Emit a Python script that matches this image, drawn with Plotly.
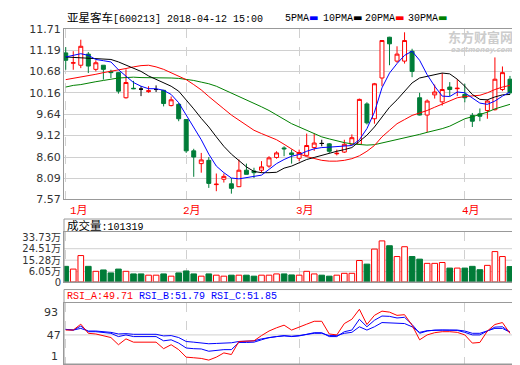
import plotly.graph_objects as go

# ---------------- data ----------------
dates = [
    "2018-01-10", "2018-01-11", "2018-01-12", "2018-01-15", "2018-01-16", "2018-01-17", "2018-01-18", "2018-01-19",
    "2018-01-22", "2018-01-23", "2018-01-24", "2018-01-25", "2018-01-26", "2018-01-29", "2018-01-30", "2018-01-31",
    "2018-02-01", "2018-02-02", "2018-02-05", "2018-02-06", "2018-02-07", "2018-02-08", "2018-02-09", "2018-02-12",
    "2018-02-13", "2018-02-14", "2018-02-22", "2018-02-23", "2018-02-26", "2018-02-27", "2018-02-28",
    "2018-03-01", "2018-03-02", "2018-03-05", "2018-03-06", "2018-03-07", "2018-03-08", "2018-03-09", "2018-03-12",
    "2018-03-13", "2018-03-14", "2018-03-15", "2018-03-16", "2018-03-19", "2018-03-20", "2018-03-21", "2018-03-22",
    "2018-03-23", "2018-03-26", "2018-03-27", "2018-03-28", "2018-03-29", "2018-03-30",
    "2018-04-02", "2018-04-03", "2018-04-04", "2018-04-09", "2018-04-10", "2018-04-11", "2018-04-12",
]
opens = [11.13, 10.88, 10.83, 11.10, 10.73, 10.83, 10.68, 10.65, 10.04, 10.27,
         10.25, 10.19, 10.24, 10.22, 9.85, 9.88, 9.51, 8.75, 8.44, 8.52,
         7.93, 8.06, 7.95, 7.88, 8.28, 8.26, 8.28, 8.38, 8.59, 8.82,
         8.70, 8.57, 8.64, 8.83, 8.93, 8.92, 8.68, 8.72, 8.91, 8.91,
         9.89, 9.53, 10.52, 11.51, 10.93, 10.93, 11.17, 10.04, 9.62, 10.11,
         9.94, 10.30, 10.26, 10.12, 9.61, 9.65, 9.73, 9.75, 10.24, 10.49]
highs = [11.27, 11.17, 11.45, 11.15, 10.95, 10.83, 10.72, 10.66, 10.73, 10.45,
         10.32, 10.32, 10.34, 10.23, 10.07, 9.91, 9.52, 8.80, 8.70, 8.60,
         8.20, 8.20, 8.09, 8.54, 8.44, 8.34, 8.50, 8.62, 8.74, 8.86,
         8.78, 8.78, 9.17, 9.17, 9.02, 8.94, 8.78, 9.02, 9.15, 10.02,
         9.93, 10.40, 11.44, 11.52, 11.29, 11.63, 11.23, 10.16, 10.00, 10.36,
         10.64, 10.42, 10.49, 10.38, 9.67, 9.78, 10.00, 11.02, 10.80, 10.57]
lows = [10.72, 10.72, 10.76, 10.64, 10.68, 10.48, 10.52, 10.14, 10.02, 10.25,
        10.08, 10.16, 10.18, 9.83, 9.83, 9.47, 8.70, 8.12, 8.22, 7.85,
        7.77, 7.98, 7.71, 7.87, 8.18, 8.09, 8.22, 8.34, 8.56, 8.62,
        8.44, 8.50, 8.64, 8.75, 8.86, 8.70, 8.64, 8.70, 8.90, 8.90,
        9.39, 9.41, 10.32, 10.83, 10.89, 10.87, 10.54, 9.61, 9.20, 10.02,
        9.85, 10.08, 10.08, 9.93, 9.33, 9.47, 9.53, 9.73, 10.20, 10.12]
closes = [10.95, 10.89, 11.29, 10.81, 10.89, 10.73, 10.65, 10.20, 10.41, 10.26,
          10.25, 10.21, 10.24, 9.90, 9.99, 9.53, 8.75, 8.60, 8.53, 7.96,
          7.94, 8.13, 7.84, 8.28, 8.18, 8.22, 8.36, 8.58, 8.70, 8.80,
          8.66, 8.71, 8.88, 8.94, 8.93, 8.74, 8.69, 8.91, 9.07, 10.00,
          9.43, 10.38, 11.43, 11.35, 11.10, 11.43, 10.68, 9.62, 9.96, 10.18,
          10.24, 10.24, 10.27, 10.04, 9.47, 9.59, 9.96, 10.49, 10.65, 10.16]

ma5 = [11.03, 11.07, 11.11, 11.07, 10.97, 10.94, 10.91, 10.72, 10.56, 10.41,
       10.32, 10.26, 10.26, 10.22, 10.12, 9.92, 9.62, 9.31, 9.02, 8.67,
       8.38, 8.22, 8.09, 8.07, 8.10, 8.13, 8.16, 8.30, 8.44, 8.54,
       8.62, 8.66, 8.74, 8.80, 8.83, 8.84, 8.85, 8.86, 8.88, 9.02,
       9.29, 9.69, 10.28, 10.64, 10.87, 11.07, 11.17, 10.95, 10.60, 10.32,
       10.08, 10.07, 10.18, 10.16, 10.04, 9.91, 9.88, 9.96, 10.08, 10.18]
ma10 = [11.03, 11.02, 11.02, 11.01, 10.99, 10.98, 10.97, 10.91, 10.83, 10.76,
        10.68, 10.57, 10.49, 10.40, 10.32, 10.20, 9.99, 9.77, 9.54, 9.33,
        9.09, 8.86, 8.67, 8.52, 8.36, 8.25, 8.22, 8.22, 8.23, 8.33,
        8.38, 8.46, 8.54, 8.59, 8.64, 8.70, 8.74, 8.78, 8.83, 8.98,
        9.13, 9.33, 9.57, 9.81, 9.99, 10.20, 10.40, 10.52, 10.56, 10.60,
        10.64, 10.62, 10.49, 10.32, 10.12, 10.00, 9.99, 10.06, 10.11, 10.12]
ma20 = [10.48, 10.51, 10.54, 10.57, 10.61, 10.65, 10.68, 10.72, 10.75, 10.79,
        10.82, 10.83, 10.79, 10.73, 10.65, 10.57, 10.48, 10.36, 10.23, 10.07,
        9.91, 9.77, 9.62, 9.49, 9.37, 9.25, 9.17, 9.09, 9.02, 8.91,
        8.80, 8.68, 8.61, 8.56, 8.52, 8.50, 8.50, 8.52, 8.56, 8.63,
        8.74, 8.88, 9.09, 9.25, 9.41, 9.51, 9.61, 9.67, 9.73, 9.81,
        9.89, 9.96, 10.04, 10.07, 10.08, 10.10, 10.16, 10.24, 10.30, 10.34]
ma30 = [10.30, 10.34, 10.36, 10.40, 10.43, 10.46, 10.49, 10.52, 10.53, 10.54,
        10.53, 10.53, 10.53, 10.52, 10.52, 10.51, 10.49, 10.46, 10.42, 10.38,
        10.32, 10.24, 10.16, 10.08, 9.99, 9.91, 9.82, 9.73, 9.62, 9.51,
        9.41, 9.33, 9.25, 9.17, 9.09, 9.04, 8.99, 8.95, 8.92, 8.90,
        8.89, 8.90, 8.94, 8.99, 9.03, 9.07, 9.11, 9.15, 9.20, 9.24,
        9.29, 9.35, 9.43, 9.53, 9.58, 9.63, 9.69, 9.77, 9.82, 9.88]

# volume in 万 (10k)
volume_wan = [10.3, 8.1, 19.0, 10.3, 6.3, 7.4, 5.0, 8.1, 6.3, 4.2,
              4.2, 3.2, 3.2, 4.2, 2.4, 5.0, 6.6, 4.2, 2.4, 4.2,
              3.2, 2.4, 3.2, 3.2, 3.2, 2.4, 3.2, 3.2, 4.2, 4.2,
              3.4, 3.2, 6.3, 4.2, 3.2, 2.4, 3.2, 4.7, 4.7, 15.0,
              12.1, 24.2, 30.8, 26.9, 18.2, 26.1, 18.2, 16.1, 12.7, 12.7,
              13.4, 8.9, 8.9, 8.9, 10.3, 7.6, 11.1, 22.2, 18.2, 10.13]

rsi_a = [55.7, 55.7, 66.3, 49.9, 48.7, 45.2, 42.3, 29.4, 39.9, 34.0,
         34.0, 33.5, 34.0, 22.3, 29.4, 20.6, 7.1, 6.0, 4.8, 1.8,
         7.1, 14.7, 11.8, 35.2, 35.2, 36.4, 45.8, 54.0, 59.8, 64.5,
         55.7, 61.6, 66.3, 71.5, 71.5, 48.7, 47.0, 67.4, 75.1, 93.0,
         65.7, 82.1, 89.7, 87.9, 82.1, 83.3, 64.5, 38.2, 47.0, 51.0,
         52.8, 52.8, 51.6, 47.0, 32.3, 33.5, 54.0, 65.7, 69.2, 49.71]
rsi_b = [56.9, 55.7, 62.8, 52.8, 52.8, 51.0, 49.9, 44.0, 47.0, 44.0,
         44.0, 44.0, 44.0, 36.4, 38.2, 32.3, 23.5, 22.3, 21.8, 17.7,
         19.4, 20.6, 20.6, 33.5, 33.5, 34.0, 38.2, 42.3, 44.0, 45.8,
         44.0, 45.2, 48.1, 51.0, 51.0, 44.0, 44.0, 52.8, 55.7, 75.1,
         61.6, 73.3, 80.9, 80.3, 77.4, 78.6, 65.7, 49.9, 54.0, 55.7,
         55.7, 55.7, 55.1, 51.6, 47.0, 47.0, 54.0, 61.0, 61.6, 51.79]
rsi_c = [56.9, 55.7, 58.7, 54.0, 54.0, 52.8, 51.6, 48.7, 49.3, 48.1,
         48.1, 48.1, 48.1, 45.2, 45.8, 42.3, 35.2, 34.0, 32.3, 31.1,
         31.7, 32.3, 32.9, 35.2, 35.2, 36.4, 39.9, 42.3, 44.0, 45.2,
         44.6, 45.8, 48.1, 49.9, 49.9, 45.8, 45.8, 49.9, 51.6, 61.6,
         55.7, 61.6, 69.2, 68.6, 66.9, 67.4, 61.6, 51.6, 54.6, 55.7,
         55.7, 55.7, 55.7, 54.0, 49.9, 49.9, 54.0, 58.7, 58.7, 51.85]

price_ticks = [7.57, 8.09, 8.60, 9.12, 9.64, 10.16, 10.68, 11.19, 11.71]
vol_ticks = [6.05, 15.28, 24.51, 33.73]
rsi_ticks = [1, 47, 93]
month_starts = ["2018-01-10", "2018-02-01", "2018-03-01", "2018-04-02"]
month_labels = ["1月", "2月", "3月", "4月"]

stock_name = "亚星客车"
stock_code = "[600213] 2018-04-12 15:00"
ma_names = ["5PMA", "10PMA", "20PMA", "30PMA"]
volume_latest = "101319"
rsi_names = ["RSI_A", "RSI_B", "RSI_C"]

# ---------------- style / geometry ----------------
W, H = 520, 365
ML, MR, MT, MB = 56, 12, 21, 2
PW, PH = W - ML - MR, H - MT - MB

def py(Y):
    return (H - MB - Y) / PH

def px(X):
    return (X - ML) / PW

RED = "#ff0000"
GREEN = "#007c38"
BLUE = "#0000ff"
BLACK = "#000000"
MA_GREEN = "#008000"
FRAME = "#999999"
GRID = "#d0d0d0"
LABEL = "#333333"
MONO = "Liberation Mono, Noto Sans CJK SC, monospace"
NUM = "DejaVu Sans, Noto Sans CJK SC, sans-serif"
VOL_FLOOR = -2.31
XR = [-0.23, 59.8]

n = len(dates)
doji = [i for i in range(n) if opens[i] == closes[i]]
body = [i for i in range(n) if opens[i] != closes[i]]

def pick(a, idx):
    return [a[i] for i in idx]

up = [closes[i] > opens[i] or (closes[i] == opens[i] and i > 0 and closes[i] > closes[i - 1])
      for i in range(n)]

fig = go.Figure()

fig.add_trace(go.Candlestick(
    x=pick(dates, body), open=pick(opens, body), high=pick(highs, body),
    low=pick(lows, body), close=pick(closes, body),
    increasing=dict(line=dict(color=RED, width=1), fillcolor="white"),
    decreasing=dict(line=dict(color=GREEN, width=1), fillcolor=GREEN),
    whiskerwidth=0, xaxis="x", yaxis="y", showlegend=False, hoverinfo="skip"))
fig.add_trace(go.Candlestick(
    x=pick(dates, doji), open=pick(opens, doji), high=pick(highs, doji),
    low=pick(lows, doji), close=pick(closes, doji),
    increasing=dict(line=dict(color=BLACK, width=1), fillcolor=BLACK),
    decreasing=dict(line=dict(color=BLACK, width=1), fillcolor=BLACK),
    whiskerwidth=0, xaxis="x", yaxis="y", showlegend=False, hoverinfo="skip"))

for vals, col in [(ma30, MA_GREEN), (ma20, RED), (ma10, BLACK), (ma5, BLUE)]:
    fig.add_trace(go.Scatter(x=dates, y=vals, mode="lines", line=dict(color=col, width=1),
                             xaxis="x", yaxis="y", showlegend=False, hoverinfo="skip"))

fig.add_trace(go.Bar(
    x=dates, y=[v - VOL_FLOOR for v in volume_wan], base=VOL_FLOOR, width=0.75,
    marker=dict(color=["white" if u else GREEN for u in up],
                line=dict(color=[RED if u else GREEN for u in up], width=1)),
    xaxis="x2", yaxis="y2", showlegend=False, hoverinfo="skip"))

for vals, col in [(rsi_c, BLUE), (rsi_b, BLUE), (rsi_a, RED)]:
    fig.add_trace(go.Scatter(x=dates, y=vals, mode="lines", line=dict(color=col, width=1),
                             xaxis="x3", yaxis="y3", showlegend=False, hoverinfo="skip"))

xcommon = dict(type="category", categoryorder="array", categoryarray=dates, range=XR,
               showline=True, mirror=True, linecolor=FRAME, linewidth=1,
               tickmode="array", tickvals=month_starts, showticklabels=False, ticks="",
               showgrid=True, gridcolor=GRID, griddash="dash", gridwidth=1,
               zeroline=False, rangeslider=dict(visible=False), fixedrange=True)
ycommon = dict(showline=True, mirror=True, linecolor=FRAME, linewidth=1, ticks="",
               zeroline=False, fixedrange=True)

fig.update_layout(
    width=W, height=H, margin=dict(l=ML, r=MR, t=MT, b=MB, pad=0),
    paper_bgcolor="white", plot_bgcolor="white",
    boxgap=0.25, bargap=0.25,
    xaxis=dict(anchor="y", **xcommon),
    xaxis2=dict(anchor="y2", matches="x", **xcommon),
    xaxis3=dict(anchor="y3", matches="x", **xcommon),
    yaxis=dict(domain=[py(195), 1.0], range=[price_ticks[0], price_ticks[-1]],
               tickmode="array", tickvals=price_ticks, ticktext=[f"{v:.2f}" for v in price_ticks],
               tickfont=dict(family=NUM, size=11, color=LABEL),
               showgrid=True, gridcolor=GRID, gridwidth=1, **ycommon),
    yaxis2=dict(domain=[py(279.3), py(228)], range=[VOL_FLOOR, 38.16],
                tickmode="array", tickvals=[VOL_FLOOR] + vol_ticks,
                ticktext=["0"] + [f"{v:.2f}万" for v in vol_ticks],
                tickfont=dict(family=NUM, size=10, color=LABEL), showgrid=False, **ycommon),
    yaxis3=dict(domain=[0, py(301)], range=[-5.2, 103.8],
                tickmode="array", tickvals=[rsi_ticks[1]], ticktext=[str(rsi_ticks[1])],
                tickfont=dict(family=NUM, size=11, color=LABEL), showgrid=False, **ycommon),
    showlegend=False,
)

shapes = []
# header boxes around volume and RSI panels
shapes.append(dict(type="rect", xref="paper", yref="paper", x0=0, x1=1, y0=py(279.3), y1=py(215),
                   line=dict(color=FRAME, width=1), layer="above"))
shapes.append(dict(type="rect", xref="paper", yref="paper", x0=0, x1=1, y0=0, y1=py(287),
                   line=dict(color=FRAME, width=1), layer="above"))
for v in vol_ticks[:-1]:
    shapes.append(dict(type="line", xref="x2 domain", yref="y2", x0=0, x1=1, y0=v, y1=v,
                       line=dict(color=GRID, width=1), layer="below"))
shapes.append(dict(type="line", xref="x3 domain", yref="y3", x0=0, x1=1, y0=rsi_ticks[1], y1=rsi_ticks[1],
                   line=dict(color=GRID, width=1), layer="below"))
fig.update_layout(shapes=shapes)

ann = []
ann.append(dict(xref="paper", yref="paper", x=px(57), y=py(9.5), xanchor="left", yanchor="middle",
                showarrow=False, font=dict(family=MONO, size=10, color="#000000"),
                text=f"<span style='font-size:11.5px'>{stock_name}</span>{stock_code}"))
ma_cols = [BLUE, BLACK, RED, MA_GREEN]
ma_x = [275, 313, 355, 398]
for name, col, xx in zip(ma_names, ma_cols, ma_x):
    ann.append(dict(xref="paper", yref="paper", x=px(xx), y=py(9.5), xanchor="left", yanchor="middle",
                    showarrow=False, font=dict(family=MONO, size=10, color="#000000"),
                    text=f"{name}<span style='color:{col};font-family:DejaVu Sans'>▬</span>"))
for k, (d, lab) in enumerate(zip(month_starts, month_labels)):
    ann.append(dict(xref="x", yref="paper", x=d, y=py(207), xanchor="left", yanchor="middle",
                    xshift=2 if k == 0 else -5, showarrow=False,
                    font=dict(family=MONO, size=11, color=RED), text=lab))
# RSI extreme labels (drawn slightly inside the panel, as in the original)
for v, shift in [(rsi_ticks[2], -3), (rsi_ticks[0], 4)]:
    ann.append(dict(xref="paper", yref="y3", x=-0.008, y=v, xanchor="right", yanchor="middle",
                    yshift=shift, showarrow=False,
                    font=dict(family=NUM, size=11, color=LABEL), text=str(v)))
ann.append(dict(xref="paper", yref="paper", x=px(57), y=py(222), xanchor="left", yanchor="middle",
                showarrow=False, font=dict(family=MONO, size=10, color="#000000"),
                text=f"<span style='font-size:11.5px'>成交量</span>:{volume_latest}"))
rsi_last = [rsi_a[-1], rsi_b[-1], rsi_c[-1]]
rsi_cols = [RED, BLUE, BLUE]
rsi_txt = " ".join(f"<span style='color:{c}'>{nm}:{v:.2f}</span>"
                   for nm, v, c in zip(rsi_names, rsi_last, rsi_cols))
ann.append(dict(xref="paper", yref="paper", x=px(57), y=py(294), xanchor="left", yanchor="middle",
                showarrow=False, font=dict(family=MONO, size=10, color=RED), text=rsi_txt))
# watermark
ann.append(dict(xref="paper", yref="paper", x=px(507), y=py(29), xanchor="right", yanchor="middle",
                showarrow=False, font=dict(family="Noto Sans CJK SC", size=13, color="#cccccc"),
                text="<b>东方财富网</b>"))
ann.append(dict(xref="paper", yref="paper", x=px(507), y=py(42.5), xanchor="right", yanchor="middle",
                showarrow=False, font=dict(family="DejaVu Sans", size=7, color="#cccccc"),
                text="<b><i>eastmoney.com</i></b>"))
fig.update_layout(annotations=ann)

fig.write_html("out.html")
